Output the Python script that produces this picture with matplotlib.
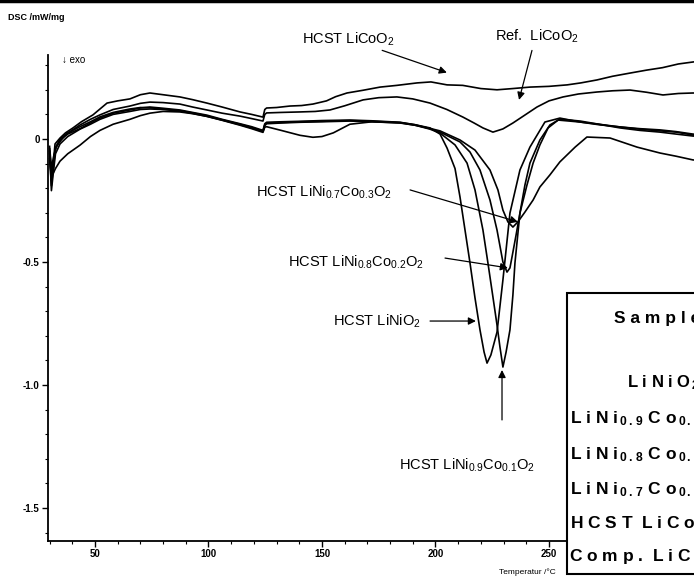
import matplotlib
matplotlib.use("Agg")
import matplotlib.pyplot as plt
from matplotlib.ticker import FixedLocator, MultipleLocator
from matplotlib.patches import Rectangle

plt.rcParams['font.family'] = ['Liberation Sans', 'DejaVu Sans']
plt.rcParams['mathtext.fontset'] = 'custom'
plt.rcParams['mathtext.rm'] = 'Liberation Sans'
plt.rcParams['mathtext.bf'] = 'Liberation Sans:bold'
plt.rcParams['mathtext.default'] = 'regular'

# ---------------- data ----------------
t_hcst_licoo2 = [30.0, 30.8, 31.6, 32.4, 34.6, 37.0, 40.3, 44.0, 49.1, 55.3, 60.0, 65.4, 70.0, 74.2, 80.0,
                 87.4, 93.0, 99.3, 106.0, 113.9, 119.0, 124.0, 124.8, 125.6, 130.0, 135.9, 141.0, 146.0,
                 152.0, 156.0, 161.0, 168.0, 175.6, 183.0, 191.9, 198.0, 205.1, 212.0, 220.0, 227.1, 234.0,
                 241.6, 250.0, 258.0, 264.0, 271.1, 278.0, 285.7, 293.0, 300.0, 307.0, 313.4, 320.0]
y_hcst_licoo2 = [-0.05, -0.17, -0.10, -0.02, 0.004, 0.025, 0.045, 0.07, 0.098, 0.146, 0.155, 0.163, 0.18,
                 0.187, 0.18, 0.171, 0.16, 0.146, 0.13, 0.11, 0.10, 0.089, 0.12, 0.126, 0.128, 0.134, 0.136,
                 0.142, 0.155, 0.172, 0.187, 0.198, 0.211, 0.218, 0.228, 0.232, 0.22, 0.218, 0.205, 0.2,
                 0.205, 0.211, 0.214, 0.22, 0.228, 0.24, 0.255, 0.268, 0.28, 0.29, 0.305, 0.313, 0.32]

t_ref_licoo2 = [30.0, 30.8, 31.8, 33.0, 36.8, 43.4, 48.0, 52.2, 58.0, 65.4, 70.0, 74.2, 80.0, 87.4, 93.0,
                99.3, 106.0, 113.9, 119.0, 124.0, 124.8, 125.6, 132.0, 140.3, 147.0, 153.5, 160.0, 168.1,
                175.0, 183.0, 190.0, 197.6, 205.0, 212.1, 217.0, 220.9, 225.3, 229.7, 234.1, 239.0, 244.7,
                250.0, 256.2, 263.0, 271.1, 278.0, 285.7, 293.0, 300.2, 307.0, 313.4, 320.0]
y_ref_licoo2 = [-0.03, -0.12, -0.07, -0.03, 0.016, 0.057, 0.08, 0.098, 0.12, 0.134, 0.145, 0.15, 0.148,
                0.142, 0.13, 0.118, 0.105, 0.093, 0.083, 0.073, 0.10, 0.106, 0.108, 0.11, 0.112, 0.118,
                0.135, 0.159, 0.168, 0.171, 0.163, 0.146, 0.12, 0.089, 0.065, 0.045, 0.028, 0.041, 0.065,
                0.095, 0.13, 0.155, 0.171, 0.183, 0.191, 0.196, 0.199, 0.19, 0.179, 0.185, 0.187, 0.186]

t_linio2 = [30.0, 30.8, 31.6, 32.6, 34.6, 38.0, 43.4, 48.0, 52.2, 58.0, 65.4, 70.0, 74.2, 80.0, 87.4, 93.0,
            99.3, 106.0, 113.9, 119.0, 124.0, 124.8, 125.6, 132.0, 140.3, 150.0, 162.3, 172.0, 184.4, 191.0,
            197.6, 202.0, 205.1, 208.6, 210.8, 213.0, 215.2, 217.4, 219.6, 221.4, 222.7, 224.4, 227.1,
            229.7, 232.8, 237.2, 241.6, 248.2, 254.8, 263.7, 272.0, 281.3, 290.0, 298.9, 306.0, 313.4, 320.0]
y_linio2 = [-0.06, -0.19, -0.12, -0.04, -0.005, 0.02, 0.042, 0.065, 0.085, 0.105, 0.118, 0.126, 0.13, 0.125,
            0.118, 0.108, 0.097, 0.08, 0.062, 0.05, 0.035, 0.062, 0.068, 0.07, 0.072, 0.075, 0.077, 0.074,
            0.068, 0.058, 0.045, 0.02, -0.037, -0.12, -0.236, -0.37, -0.504, -0.646, -0.776, -0.866, -0.911,
            -0.878, -0.785, -0.573, -0.301, -0.126, -0.033, 0.069, 0.085, 0.069, 0.06, 0.049, 0.04, 0.033,
            0.028, 0.016, 0.012]

t_ni09 = [30.0, 30.8, 31.6, 32.6, 34.6, 38.0, 43.4, 48.0, 52.2, 58.0, 65.4, 70.0, 74.2, 80.0, 87.4, 93.0,
          99.3, 106.0, 113.9, 119.0, 124.0, 124.8, 125.6, 132.0, 140.3, 150.0, 162.3, 172.0, 184.4, 191.0,
          197.6, 202.0, 208.6, 213.9, 217.4, 220.9, 223.1, 225.3, 227.1, 228.4, 229.7, 231.1, 232.8, 234.1,
          235.0, 237.2, 239.4, 241.6, 246.0, 250.4, 254.8, 263.7, 272.0, 281.3, 290.0, 298.9, 306.0, 313.4,
          320.0]
y_ni09 = [-0.04, -0.21, -0.14, -0.06, -0.02, 0.01, 0.04, 0.06, 0.08, 0.1, 0.112, 0.12, 0.122, 0.12, 0.113,
          0.104, 0.092, 0.077, 0.058, 0.045, 0.03, 0.055, 0.062, 0.065, 0.068, 0.07, 0.073, 0.07, 0.065,
          0.056, 0.04, 0.024, -0.024, -0.098, -0.207, -0.37, -0.504, -0.642, -0.756, -0.846, -0.927, -0.866,
          -0.776, -0.634, -0.504, -0.301, -0.187, -0.098, -0.004, 0.057, 0.081, 0.073, 0.06, 0.045, 0.035,
          0.028, 0.02, 0.012, 0.01]

t_ni08 = [30.0, 30.8, 31.6, 32.6, 34.6, 38.0, 43.4, 48.0, 52.2, 58.0, 65.4, 70.0, 74.2, 80.0, 87.4, 93.0,
          99.3, 106.0, 113.9, 119.0, 124.0, 124.8, 125.6, 132.0, 140.3, 150.0, 162.3, 172.0, 184.4, 191.0,
          197.6, 202.0, 210.8, 215.2, 219.6, 224.0, 227.1, 229.7, 231.5, 232.8, 233.7, 235.5, 237.2, 240.3,
          243.0, 246.0, 249.6, 254.0, 263.7, 272.0, 281.3, 290.0, 298.9, 306.0, 313.4, 320.0]
y_ni08 = [-0.08, -0.15, -0.1, -0.035, 0.0, 0.025, 0.05, 0.07, 0.09, 0.108, 0.122, 0.128, 0.127, 0.122, 0.115,
          0.106, 0.094, 0.078, 0.06, 0.047, 0.032, 0.058, 0.065, 0.067, 0.07, 0.072, 0.075, 0.072, 0.067,
          0.058, 0.042, 0.028, -0.012, -0.053, -0.126, -0.248, -0.37, -0.5, -0.541, -0.524, -0.48, -0.39,
          -0.301, -0.187, -0.098, -0.024, 0.045, 0.077, 0.069, 0.058, 0.049, 0.042, 0.037, 0.03, 0.02, 0.015]

t_ni07 = [30.0, 30.8, 31.6, 32.6, 34.6, 38.0, 43.4, 48.0, 52.2, 58.0, 65.4, 70.0, 74.2, 80.0, 87.4, 93.0,
          99.3, 106.0, 113.9, 119.0, 124.0, 124.8, 125.6, 132.0, 140.3, 146.0, 150.0, 155.0, 162.3, 172.0,
          184.4, 191.0, 197.6, 202.0, 210.8, 217.4, 224.0, 227.5, 229.7, 231.9, 234.1, 236.3, 239.4, 243.0,
          246.0, 250.4, 254.8, 261.5, 266.7, 276.9, 288.8, 298.9, 306.0, 313.4, 320.0]
y_ni07 = [-0.05, -0.12, -0.14, -0.12, -0.09, -0.06, -0.025, 0.01, 0.035, 0.06, 0.08, 0.095, 0.105, 0.112,
          0.11, 0.103, 0.092, 0.076, 0.056, 0.042, 0.027, 0.048, 0.05, 0.035, 0.015, 0.007, 0.01, 0.025, 0.06,
          0.07, 0.066, 0.056, 0.043, 0.033, -0.004, -0.045, -0.126, -0.207, -0.289, -0.337, -0.358, -0.337,
          -0.297, -0.248, -0.195, -0.146, -0.093, -0.033, 0.008, 0.004, -0.033, -0.057, -0.07, -0.085, -0.09]

y_ticks = [-1.5, -1.0, -0.5, 0.0]
y_tick_labels = ['-1.5', '-1.0', '-0.5', '0']
x_ticks = [50, 100, 150, 200, 250]
x_tick_labels = ['50', '100', '150', '200', '250']

table_header = 'S a m p l e'
table_rows = ['L i N i O$_{\\mathbf{\\,2}}$',
              'L i N i$_{\\mathbf{\\,0\\,.\\,9}}$ C o$_{\\mathbf{\\,0\\,.\\,1}}$ O$_{\\mathbf{\\,2}}$',
              'L i N i$_{\\mathbf{\\,0\\,.\\,8}}$ C o$_{\\mathbf{\\,0\\,.\\,2}}$ O$_{\\mathbf{\\,2}}$',
              'L i N i$_{\\mathbf{\\,0\\,.\\,7}}$ C o$_{\\mathbf{\\,0\\,.\\,3}}$ O$_{\\mathbf{\\,2}}$',
              'H C S T  L i C o O$_{\\mathbf{\\,2}}$',
              'C o m p .  L i C o O$_{\\mathbf{\\,2}}$']

# ---------------- figure ----------------
W, H = 694, 578
fig = plt.figure(figsize=(W / 100, H / 100), dpi=100)

def fx(px):
    return px / W

def fy(py):
    return 1 - py / H

ax_left, ax_top, ax_bottom, ax_right = 48, 55, 541, 740
ax = fig.add_axes([fx(ax_left), fy(ax_bottom), (ax_right - ax_left) / W, (ax_bottom - ax_top) / H])
ax.set_xlim(29.3, 50 + (ax_right - 95) / 2.27)
ax.set_ylim((139 - ax_bottom) / 246, (139 - ax_top) / 246)

for t, y in [(t_hcst_licoo2, y_hcst_licoo2), (t_ref_licoo2, y_ref_licoo2), (t_linio2, y_linio2),
             (t_ni09, y_ni09), (t_ni08, y_ni08), (t_ni07, y_ni07)]:
    ax.plot(t, y, color='black', lw=1.2, solid_joinstyle='round')

ax.spines['top'].set_visible(False)
ax.spines['right'].set_visible(False)
ax.spines['left'].set_linewidth(1.3)
ax.spines['bottom'].set_linewidth(1.3)
ax.yaxis.set_major_locator(FixedLocator(y_ticks))
ax.set_yticklabels(y_tick_labels)
ax.xaxis.set_major_locator(FixedLocator(x_ticks))
ax.set_xticklabels(x_tick_labels)
ax.xaxis.set_minor_locator(MultipleLocator(10))
ax.yaxis.set_minor_locator(MultipleLocator(0.1))
ax.tick_params(which='major', direction='out', length=4, width=1, labelsize=7, pad=2)
ax.tick_params(which='minor', direction='out', length=2.5, width=0.8)
for lab in ax.get_xticklabels() + ax.get_yticklabels():
    lab.set_fontweight('bold')

# annotations
arrow = dict(arrowstyle='-|>', color='black', lw=0.9, mutation_scale=11, shrinkA=0, shrinkB=0)
ax.annotate('HCST LiCoO$_2$', xy=(205.0, 0.27), xytext=(182.2, 0.407), ha='right', va='center',
            fontsize=10.5, arrowprops=arrow, annotation_clip=False)
ax.annotate('Ref.  LiCoO$_2$', xy=(236.8, 0.159), xytext=(226.2, 0.419), ha='left', va='center',
            fontsize=10.5, annotation_clip=False)
ax.annotate('', xy=(236.8, 0.159), xytext=(242.5, 0.36), arrowprops=arrow)
ax.annotate('HCST LiNi$_{0.7}$Co$_{0.3}$O$_2$', xy=(236.3, -0.337), xytext=(180.8, -0.215), ha='right',
            va='center', fontsize=10.5)
ax.annotate('', xy=(236.3, -0.337), xytext=(188.8, -0.207), arrowprops=arrow)
ax.annotate('HCST LiNi$_{0.8}$Co$_{0.2}$O$_2$', xy=(231.9, -0.524), xytext=(194.9, -0.5), ha='right',
            va='center', fontsize=10.5)
ax.annotate('', xy=(231.9, -0.524), xytext=(204.2, -0.484), arrowprops=arrow)
ax.annotate('HCST LiNiO$_2$', xy=(217.8, -0.74), xytext=(193.6, -0.74), ha='right', va='center',
            fontsize=10.5)
ax.annotate('', xy=(217.8, -0.74), xytext=(197.6, -0.74), arrowprops=arrow)
ax.annotate('HCST LiNi$_{0.9}$Co$_{0.1}$O$_2$', xy=(229.3, -0.939), xytext=(213.9, -1.325), ha='center',
            va='center', fontsize=10.5)
ax.annotate('', xy=(229.3, -0.939), xytext=(229.3, -1.142), arrowprops=arrow)
ax.text(35.5, 0.32, '\u2193 exo', fontsize=7, ha='left', va='center')

fig.text(fx(8), fy(17), 'DSC /mW/mg', fontsize=6.5, fontweight='bold', ha='left', va='center')
fig.text(fx(527), fy(572), 'Temperatur /\u00b0C', fontsize=6, ha='center', va='center')

# table box (cropped at the right edge in the reference)
fig.patches.append(Rectangle((fx(567), fy(574)), (W + 20 - 567) / W, (574 - 293) / H,
                             transform=fig.transFigure, facecolor='white', edgecolor='black',
                             lw=1.5, zorder=5))
fig.text(fx(614), fy(319), table_header, fontsize=12.5, fontweight='bold', ha='left', va='center', zorder=6)
row_left = [627, 570, 570, 570, 570, 569]
row_y = [383, 419, 455, 490, 524, 557]
row_size = [12, 12.5, 12.5, 12.5, 12.5, 12.5]
for txt, lx, ry, fs in zip(table_rows, row_left, row_y, row_size):
    fig.text(fx(lx), fy(ry), txt, fontsize=fs, fontweight='bold', ha='left', va='center', zorder=6)

# dark scan edge at the top
fig.add_artist(plt.Line2D([0, 1], [fy(1), fy(1)], transform=fig.transFigure, color='black', lw=2.5))
fig.savefig('out.png', dpi=100)
